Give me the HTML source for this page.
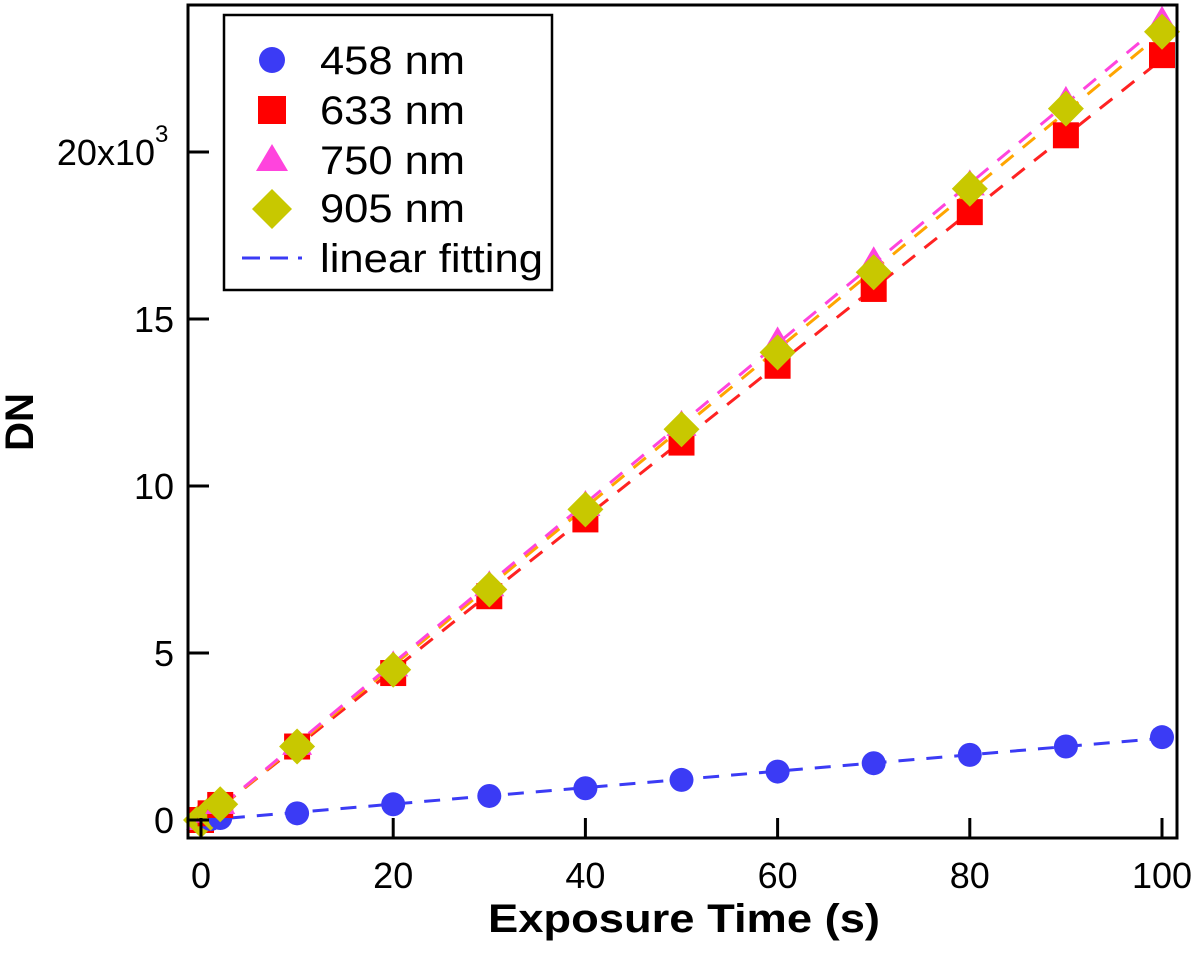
<!DOCTYPE html>
<html><head><meta charset="utf-8"><style>
body{margin:0;background:#fff}
svg text{font-family:"Liberation Sans",Arial,sans-serif}
</style></head><body>
<svg id="chart" width="1200" height="951" viewBox="0 0 1200 951" xmlns="http://www.w3.org/2000/svg">
<g id="fits"></g>
<g id="marks"></g>
<rect x="188" y="5" width="989" height="833" fill="none" stroke="#000" stroke-width="3"/>
<g id="axes"></g>
<text x="488" y="932" font-size="40" font-weight="bold" textLength="392" lengthAdjust="spacingAndGlyphs">Exposure Time (s)</text>
<text transform="translate(33,422) rotate(-90)" font-size="40" font-weight="bold" text-anchor="middle">DN</text>
<g>
<rect x="224" y="15" width="328" height="275" fill="#fff" stroke="#000" stroke-width="2.5"/>
<circle cx="272" cy="60" r="13" fill="#3b3bf5"/>
<text x="320" y="74" font-size="40" textLength="145" lengthAdjust="spacingAndGlyphs">458 nm</text>
<rect x="258" y="96" width="28" height="28" fill="#f00"/>
<text x="320" y="124" font-size="40" textLength="145" lengthAdjust="spacingAndGlyphs">633 nm</text>
<polygon points="272,144 288,171 256,171" fill="#ff44dd"/>
<text x="320" y="174" font-size="40" textLength="145" lengthAdjust="spacingAndGlyphs">750 nm</text>
<polygon points="272,189 292,209 272,229 252,209" fill="#c8c800"/>
<text x="320" y="222" font-size="40" textLength="145" lengthAdjust="spacingAndGlyphs">905 nm</text>
<line x1="242" y1="258" x2="302" y2="258" stroke="#3b3bf5" stroke-width="3" stroke-dasharray="18,10"/>
<text x="320" y="272" font-size="40" textLength="223" lengthAdjust="spacingAndGlyphs">linear fitting</text>
</g>
</svg>
<script>
const xs = [0,1,2,10,20,30,40,50,60,70,80,90,100];
const s458 = [0,0.03,0.06,0.2,0.47,0.72,0.95,1.2,1.45,1.7,1.95,2.2,2.48];
const s633 = [0,0.2,0.45,2.2,4.4,6.7,9.0,11.3,13.6,15.9,18.2,20.5,22.9];
const s750 = [0,0.22,0.48,2.25,4.6,7.0,9.4,11.8,14.3,16.7,19.0,21.5,23.9];
const s905 = [0,0.22,0.47,2.2,4.5,6.9,9.3,11.7,14.0,16.4,18.9,21.3,23.6];
const xTicks = [0,20,40,60,80,100];
const yTicks = [0,5,10,15,20];
const yTickLabels = ["0","5","10","15","20x10"];
const NS="http://www.w3.org/2000/svg";
const X=v=>201+v*9.61, Y=v=>820-v*33.4;
function mk(t,a,p){const e=document.createElementNS(NS,t);for(const k in a)e.setAttribute(k,a[k]);p.appendChild(e);return e;}
const axes=document.getElementById('axes');
xTicks.forEach(t=>{
  const l=mk('line',{x1:X(t),x2:X(t),y1:838,y2:818,stroke:'#000','stroke-width':3},axes);
  
  
  const tx=mk('text',{x:X(t),y:888,'font-size':36,'text-anchor':'middle'},axes);tx.textContent=t;
  
  
});
yTicks.forEach((t,i)=>{
  const l=mk('line',{x1:188,x2:209,y1:Y(t),y2:Y(t),stroke:'#000','stroke-width':3},axes);
  
  
  const tx=mk('text',{x:i==4?155:174,y:Y(t)+13,'font-size':36,'text-anchor':'end'},axes);tx.textContent=yTickLabels[i];
  
  
  if(i==4){const s=mk('text',{x:155,y:Y(t)-10,'font-size':24},axes);s.textContent='3';
  
  }
});
function fit(d){const n=xs.length;let sx=0,sy=0,sxx=0,sxy=0;for(let i=0;i<n;i++){sx+=xs[i];sy+=d[i];sxx+=xs[i]*xs[i];sxy+=xs[i]*d[i];}const m=(n*sxy-sx*sy)/(n*sxx-sx*sx);return [m,(sy-m*sx)/n];}
const fits=document.getElementById('fits'),marks=document.getElementById('marks');
[[s633,'#f22'],[s905,'#ffa500'],[s750,'#ff44dd'],[s458,'#3b3bf5']].forEach(([d,c])=>{
  const [m,b]=fit(d);
  const l=mk('line',{x1:X(0),y1:Y(b),x2:X(100),y2:Y(b+100*m),stroke:c,'stroke-width':3,'stroke-dasharray':'16,12'},fits);
  
  
});
xs.forEach((x,i)=>{
  let e=mk('circle',{cx:X(x),cy:Y(s458[i]),r:12,fill:'#3b3bf5'},marks);
  
  
  e=mk('rect',{x:X(x)-13,y:Y(s633[i])-13,width:26,height:26,fill:'#f00'},marks);
  
  
  const px=X(x),py=Y(s750[i]);
  e=mk('polygon',{points:`${px},${py-16} ${px+15},${py+10} ${px-15},${py+10}`,fill:'#ff44dd'},marks);
  
  
  const qx=X(x),qy=Y(s905[i]);
  e=mk('polygon',{points:`${qx},${qy-18} ${qx+18},${qy} ${qx},${qy+18} ${qx-18},${qy}`,fill:'#c8c800'},marks);
  
  
});
</script>
</body></html>
